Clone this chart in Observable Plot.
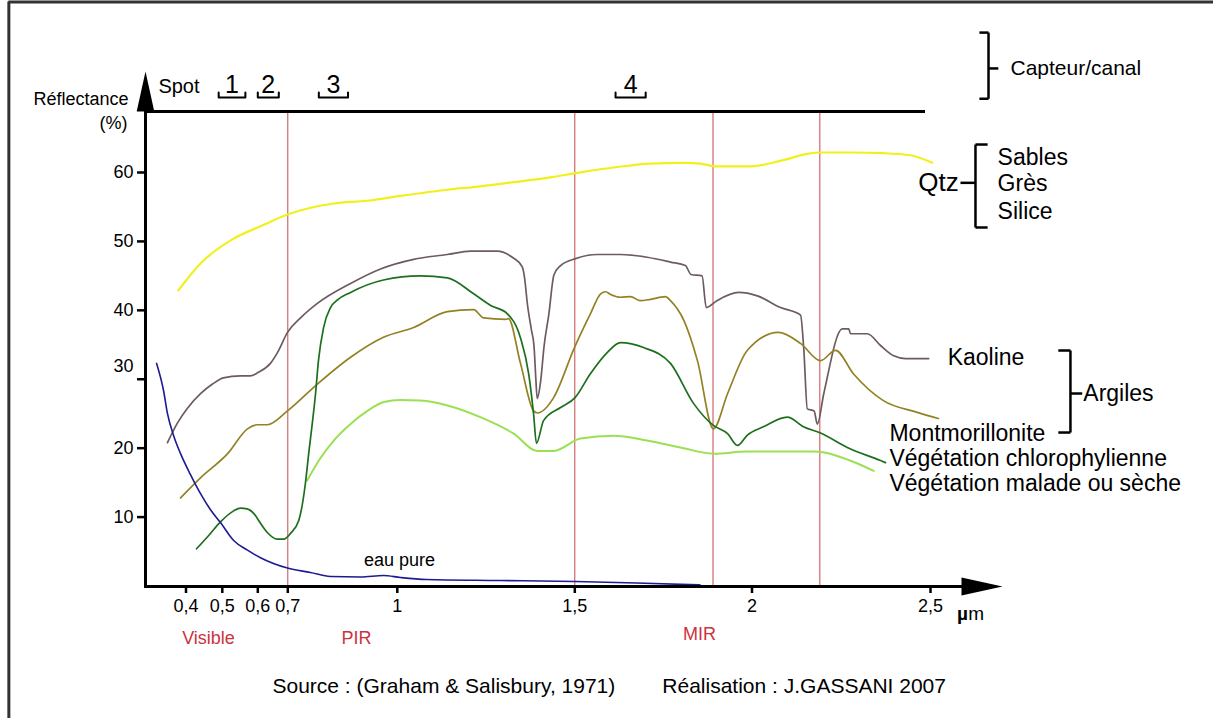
<!DOCTYPE html>
<html><head><meta charset="utf-8">
<script src="https://cdn.jsdelivr.net/npm/d3@7"></script>
<script src="https://cdn.jsdelivr.net/npm/@observablehq/plot@0.6"></script>
<style>html,body{margin:0;padding:0;background:#fff;} #chart svg{display:block}</style>
</head><body><div id="chart"></div>
<script>
// ---------------- DATA ----------------
const xTicks = [0.4, 0.5, 0.6, 0.7, 1, 1.5, 2, 2.5];
const xTickLabels = ["0,4", "0,5", "0,6", "0,7", "1", "1,5", "2", "2,5"];
const yTicks = [10, 20, 30, 40, 50, 60];
const regionBoundaries = [0.7, 1.5, 1.89, 2.19];
const regionNames = ["Visible", "PIR", "MIR"];
const spotBandNames = ["1", "2", "3", "4"];
const spotBandStart = [0.49, 0.60, 0.785, 1.615];
const spotBandEnd = [0.565, 0.67, 0.865, 1.70];

const qtzWl = [0.379,0.44,0.532,0.609,0.699,0.825,0.918,1.009,1.141,1.234,1.328,1.431,1.502,1.62,1.714,1.807,1.855,1.894,1.996,2.088,2.155,2.192,2.276,2.368,2.444,2.505];
const qtzR  = [42.9,46.8,50.4,52.2,53.9,55.5,55.9,56.6,57.5,58.0,58.6,59.3,59.9,60.8,61.3,61.4,61.3,60.9,60.9,61.8,62.7,62.9,62.9,62.8,62.5,61.4];

const kaoWl = [0.349,0.377,0.404,0.44,0.473,0.503,0.551,0.579,0.602,0.642,0.666,0.699,0.735,0.781,0.872,0.954,1.046,1.141,1.206,1.281,1.324,1.352,1.358,1.367,1.378,1.385,1.39,1.394,1.404,1.413,1.427,1.441,1.46,1.502,1.563,1.629,1.704,1.77,1.812,1.828,1.859,1.871,1.901,1.962,2.015,2.08,2.136,2.145,2.155,2.174,2.183,2.201,2.253,2.271,2.276,2.323,2.36,2.397,2.43,2.495];
const kaoR  = [20.8,23.7,25.8,27.9,29.3,30.2,30.5,30.5,31.0,32.3,33.9,36.8,38.9,41.0,43.9,46.0,47.4,48.1,48.6,48.6,47.7,46.3,44.9,40.7,37.1,34.9,30.3,27.2,29.8,34.6,39.5,45.1,46.5,47.5,48.1,48.1,47.7,47.0,46.5,45.2,45.0,40.4,41.4,42.6,42.1,40.4,39.3,34.4,25.7,25.4,23.5,27.9,37.3,37.3,36.6,36.6,34.9,33.4,33.0,33.0];

const montWl = [0.385,0.44,0.515,0.571,0.599,0.632,0.699,0.781,0.872,0.962,1.046,1.141,1.215,1.243,1.305,1.313,1.347,1.384,1.395,1.44,1.499,1.525,1.544,1.573,1.587,1.601,1.629,1.657,1.685,1.714,1.756,1.77,1.808,1.846,1.891,1.931,1.987,2.074,2.136,2.192,2.234,2.284,2.368,2.463,2.522];
const montR  = [12.8,15.7,19.2,22.8,23.4,23.4,25.4,29.3,33.2,36.1,37.5,39.8,40.1,38.9,38.7,38.8,32.3,25.4,25.1,27.3,34.6,37.5,39.5,42.4,42.7,42.3,41.9,42.0,41.4,41.6,42.0,41.4,38.5,32.7,22.8,27.9,34.2,36.8,35.2,32.7,34.2,30.8,26.9,25.2,24.3];

const chlWl = [0.429,0.462,0.495,0.532,0.551,0.57,0.589,0.609,0.631,0.665,0.687,0.707,0.73,0.748,0.757,0.768,0.776,0.784,0.798,0.817,0.836,0.872,0.962,1.065,1.141,1.215,1.263,1.31,1.347,1.37,1.384,1.392,1.412,1.46,1.5,1.544,1.592,1.629,1.694,1.77,1.835,1.891,1.931,1.959,1.987,2.032,2.099,2.144,2.192,2.267,2.36,2.374];
const chlR  = [5.4,7.3,9.3,10.9,11.3,11.2,10.5,9.1,7.8,6.8,6.8,7.6,9.5,14.8,19.1,24.0,27.9,32.7,37.5,40.4,41.5,42.6,44.4,45.0,44.7,42.4,40.7,39.5,36.0,30.8,24.9,20.7,24.0,25.9,27.3,30.8,33.9,35.3,34.6,32.3,26.5,23.3,22.1,20.4,21.9,23.1,24.5,23.1,22.2,20.1,18.2,17.9];

const sickWl = [0.753,0.79,0.826,0.872,0.918,0.963,1.009,1.065,1.141,1.234,1.328,1.394,1.441,1.516,1.61,1.704,1.798,1.892,1.986,2.173,2.285,2.341];
const sickR  = [15.3,18.6,21.1,23.5,25.4,26.7,27.0,26.9,26.2,24.5,22.1,19.6,19.6,21.4,21.8,21.1,20.1,19.2,19.5,19.5,18.0,16.7];

const waterWl = [0.319,0.338,0.349,0.366,0.385,0.412,0.44,0.467,0.495,0.532,0.571,0.609,0.699,0.762,0.817,0.9,0.962,1.009,1.082,1.291,1.502,1.674,1.854];
const waterR  = [32.3,28.4,25.0,21.8,19.2,16.2,13.4,11.1,9.2,6.6,5.2,4.1,2.6,1.96,1.38,1.31,1.52,1.23,0.94,0.8,0.65,0.44,0.15];

// ---------------- STYLE / LAYOUT ----------------
const font = "Liberation Sans, Arial, Helvetica, sans-serif";
const red = "#cc3340";
const series = [
  {name: "Qtz", wl: qtzWl, r: qtzR, color: "#f2f01c", width: 2.2},
  {name: "Kaoline", wl: kaoWl, r: kaoR, color: "#6d5b5f", width: 1.7},
  {name: "Montmorillonite", wl: montWl, r: montR, color: "#928224", width: 1.7},
  {name: "Végétation malade ou sèche", wl: sickWl, r: sickR, color: "#9be052", width: 2},
  {name: "Végétation chlorophylienne", wl: chlWl, r: chlR, color: "#1d6f1d", width: 1.7},
  {name: "eau pure", wl: waterWl, r: waterR, color: "#1c1c92", width: 1.6}
];
const rows = s => s.wl.map((w, i) => ({wl: w, r: s.r[i]}));

// annotation layout (in data units: µm, %)
const L = {
  bandLineY: 70.9, bandHookY: 71.6, bandNumY: 72.7, spotX: 0.324,
  regionY: -7.6, mirY: -7.0, captionY: -14.6, sourceX: 0.649, realX: 1.747,
  borderX: -0.088, borderTopY: 84.74, borderBottomY: -19.5, borderRightX: 3.3
};
const bandRows = spotBandNames.flatMap((n, i) => [
  {band: n, x: spotBandStart[i], y: L.bandHookY},
  {band: n, x: spotBandStart[i], y: L.bandLineY},
  {band: n, x: spotBandEnd[i], y: L.bandLineY},
  {band: n, x: spotBandEnd[i], y: L.bandHookY}
]);
const bracketSegs = [
  // Capteur/canal
  {x1: 2.637, y1: 80.3, x2: 2.6625, y2: 80.3}, {x1: 2.6625, y1: 80.3, x2: 2.6625, y2: 70.7},
  {x1: 2.637, y1: 70.7, x2: 2.6625, y2: 70.7}, {x1: 2.6625, y1: 75.1, x2: 2.690, y2: 75.1},
  // Qtz
  {x1: 2.584, y1: 58.5, x2: 2.626, y2: 58.5}, {x1: 2.626, y1: 64.06, x2: 2.626, y2: 52.02},
  {x1: 2.626, y1: 64.06, x2: 2.660, y2: 64.06}, {x1: 2.626, y1: 52.02, x2: 2.660, y2: 52.02},
  // Argiles
  {x1: 2.858, y1: 34.17, x2: 2.892, y2: 34.17}, {x1: 2.892, y1: 34.17, x2: 2.892, y2: 22.27},
  {x1: 2.858, y1: 22.27, x2: 2.892, y2: 22.27}, {x1: 2.892, y1: 27.93, x2: 2.925, y2: 27.93}
];
const labels = [
  {x: 0.2416, y: 70.6, t: "Réflectance", a: "end", s: 18, w: "normal"},
  {x: 0.239, y: 67.1, t: "(%)", a: "end", s: 18, w: "normal"},
  {x: L.spotX, y: 72.5, t: "Spot", a: "start", s: 20, w: "normal"},
  {x: 1.006, y: 3.7, t: "eau pure", a: "middle", s: 18, w: "normal"},
  {x: 2.574, y: -4.0, t: "µ", a: "start", s: 19, w: "bold"},
  {x: 2.606, y: -4.0, t: "m", a: "start", s: 19, w: "normal"},
  {x: 2.724, y: 75.1, t: "Capteur/canal", a: "start", s: 21, w: "normal"},
  {x: 2.579, y: 58.5, t: "Qtz", a: "end", s: 26, w: "normal"},
  {x: 2.688, y: 62.2, t: "Sables", a: "start", s: 23, w: "normal"},
  {x: 2.688, y: 58.4, t: "Grès", a: "start", s: 23, w: "normal"},
  {x: 2.688, y: 54.3, t: "Silice", a: "start", s: 23, w: "normal"},
  {x: 2.548, y: 33.2, t: "Kaoline", a: "start", s: 23, w: "normal"},
  {x: 2.385, y: 22.1, t: "Montmorillonite", a: "start", s: 23, w: "normal"},
  {x: 2.928, y: 27.93, t: "Argiles", a: "start", s: 23, w: "normal"},
  {x: 2.385, y: 18.5, t: "Végétation chlorophylienne", a: "start", s: 23, w: "normal"},
  {x: 2.385, y: 14.87, t: "Végétation malade ou sèche", a: "start", s: 23, w: "normal"},
  {x: L.sourceX, y: L.captionY, t: "Source : (Graham & Salisbury, 1971)", a: "start", s: 21, w: "normal"},
  {x: L.realX, y: L.captionY, t: "Réalisation : J.GASSANI 2007", a: "start", s: 21, w: "normal"}
];
const regionLabels = [
  {x: 0.462, y: L.regionY, t: regionNames[0]},
  {x: 0.888, y: L.regionY, t: regionNames[1]},
  {x: 1.852, y: L.mirY, t: regionNames[2]}
];
const arrowSymbol = {
  draw(ctx, size) {
    const r = Math.sqrt(size / Math.PI);
    ctx.moveTo(0, -r); ctx.lineTo(r * 0.22, 0); ctx.lineTo(-r * 0.22, 0); ctx.closePath();
  }
};
const textMarks = [];
for (const a of ["start", "middle", "end"]) for (const w of ["normal", "bold"]) {
  const sub = labels.filter(d => d.a === a && d.w === w);
  if (sub.length) textMarks.push(Plot.text(sub, {x: "x", y: "y", text: "t", textAnchor: a, fontWeight: w, fontSize: "s", fill: "black"}));
}

const chart = Plot.plot({
  width: 1213, height: 718,
  marginLeft: 145, marginTop: 111, marginRight: 290, marginBottom: 132,
  style: {fontFamily: font, fontSize: "18px", background: "white", color: "black", overflow: "visible"},
  x: {type: "linear", domain: xTicks, range: [185.5, 221.8, 257.3, 287.3, 396.8, 574.3, 751.5, 930]},
  y: {type: "linear", domain: [0, 60], range: [585.5, 172]},
  marks: [
    // page border (left & top)
    Plot.ruleX([L.borderX], {y1: L.borderBottomY, y2: L.borderTopY, stroke: "#333", strokeWidth: 3}),
    Plot.ruleY([L.borderTopY], {x1: L.borderX, x2: L.borderRightX, stroke: "#333", strokeWidth: 3}),
    // region boundaries
    Plot.ruleX(regionBoundaries, {stroke: "#c24a4a", strokeWidth: 1}),
    // curves
    ...series.map(s => Plot.line(rows(s), {x: "wl", y: "r", stroke: s.color, strokeWidth: s.width, curve: "monotone-x"})),
    // axes
    Plot.frame({anchor: "left", strokeWidth: 3}),
    Plot.frame({anchor: "top", strokeWidth: 3}),
    Plot.frame({anchor: "bottom", strokeWidth: 3, insetRight: -38}),
    Plot.dot([0], {frameAnchor: "top-left", symbol: arrowSymbol, r: 40, fill: "black", stroke: "none"}),
    Plot.dot([0], {frameAnchor: "bottom-right", dx: 38, symbol: arrowSymbol, r: 41, rotate: 90, fill: "black", stroke: "none"}),
    Plot.axisX({ticks: xTicks, tickFormat: d => xTickLabels[xTicks.indexOf(d)], tickSize: 7, tickPadding: 6, fontSize: 18, strokeWidth: 2.5, label: null}),
    Plot.axisY({ticks: yTicks, tickFormat: d => d === 30 ? "" : String(d), tickSize: 8, tickPadding: 4, fontSize: 18, strokeWidth: 2.5, label: null}),
    Plot.text([30], {x: () => 0.4 + (133 - 185.5) / 363, y: d => d, text: d => String(d), textAnchor: "end", dy: -13, fontSize: 18}),
    // spot bands
    Plot.line(bandRows, {x: "x", y: "y", z: "band", stroke: "black", strokeWidth: 2, curve: "linear"}),
    Plot.text(spotBandNames, {x: (d, i) => (spotBandStart[i] + spotBandEnd[i]) / 2, y: () => L.bandNumY, text: d => d, fontSize: 25}),
    // brackets
    Plot.link(bracketSegs, {x1: "x1", y1: "y1", x2: "x2", y2: "y2", stroke: "black", strokeWidth: 2.5}),
    // labels
    ...textMarks,
    Plot.text(regionLabels, {x: "x", y: "y", text: "t", fontSize: 18, fill: red})
  ]
});
document.getElementById("chart").appendChild(chart);
</script>
</body></html>
